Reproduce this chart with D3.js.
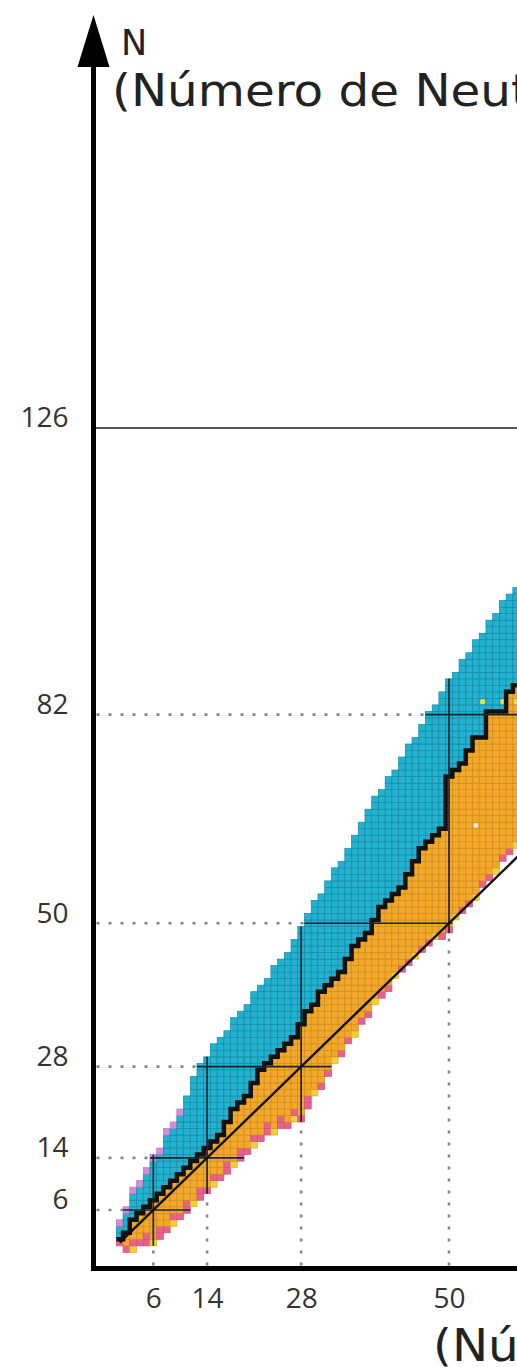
<!DOCTYPE html>
<html>
<head>
<meta charset="utf-8">
<script src="https://cdnjs.cloudflare.com/ajax/libs/d3/7.8.5/d3.min.js"></script>
<style>
body { margin: 0; background: #fff; }
svg { display: block; }
</style>
</head>
<body>
<script>
// proton number Z and, for each Z, the neutron numbers
var zValues = d3.range(1, 61);
// lightest known isotope (proton-rich edge)
var nLow = [1, 0, 0, 1, 1, 1, 2, 3, 4, 5,
            6, 7, 8, 9, 10, 11, 12, 13, 14, 15,
            16, 17, 18, 18, 19, 19, 20, 20, 22, 24,
            25, 27, 29, 30, 32, 33, 35, 36, 38, 39,
            40, 42, 43, 44, 45, 46, 47, 48, 48, 49,
            51, 52, 53, 54, 56, 57, 58, 60, 61, 62];
// top of the stability staircase
var nStable = [1, 2, 4, 5, 6, 7, 8, 9, 10, 11,
               12, 13, 14, 15, 16, 17, 19, 21, 22, 23,
               25, 27, 28, 29, 30, 31, 32, 34, 36, 37,
               39, 40, 41, 42, 44, 46, 47, 48, 50, 52,
               53, 54, 55, 57, 59, 61, 62, 63, 64, 72,
               73, 74, 76, 78, 78, 82, 82, 82, 85, 86];
// heaviest known isotope (neutron-rich edge)
var nHigh = [4, 6, 9, 10, 12, 14, 15, 18, 19, 21,
             23, 26, 28, 29, 31, 32, 33, 35, 36, 37,
             39, 40, 41, 43, 44, 45, 47, 49, 51, 53,
             54, 56, 58, 59, 61, 63, 65, 67, 69, 70,
             72, 73, 75, 77, 78, 80, 82, 83, 85, 87,
             88, 90, 91, 93, 94, 96, 97, 99, 100, 101];

var magicN = [6, 14, 28, 50, 82];
var magicZ = [6, 14, 28, 50];
var yTicks = [6, 14, 28, 50, 82, 126];
var xTicks = [6, 14, 28, 50];
var yellowDots = [[55, 84], [58, 84], [60, 84]];
var whiteDots = [[54, 65]];

var width = 517, height = 1367;
var axisX = 93.5, axisY = 1268.5;

var svg = d3.select("body").append("svg")
    .attr("width", width)
    .attr("height", height);

var x = d3.scaleLinear().domain([0, 60]).range([113, 516.2]);
var y = d3.scaleLinear().domain([0, 126]).range([1249.1, 427.9]);
var cw = x(1) - x(0), ch = y(0) - y(1);

var fills = {
    blue:   ["#21b2cf", "#1889a6"],
    orange: ["#f2a92a", "#d38b20"],
    pink:   ["#e8618b", "#d24f78"],
    yellow: ["#f3cd3a", "#dcae2a"],
    violet: ["#d68bd8", "#c278c6"]
};

// build the cells
var cells = [];
zValues.forEach(function (z, i) {
    for (var n = nLow[i]; n <= nHigh[i]; n++) {
        var type = n > nStable[i] ? "blue" : "orange";
        if (type === "orange") {
            var d = n - nLow[i];
            if (d === 0) type = (z % 3 === 0) ? "yellow" : "pink";
            else if (d === 1 && z <= 30 && z % 2) type = "pink";
        }
        if (type === "blue" && z <= 10 && n === nHigh[i]) type = "violet";
        cells.push({z: z, n: n, type: type});
    }
});

svg.append("g").selectAll("rect")
    .data(cells)
    .enter()
    .append("rect")
    .attr("x", function (d) { return x(d.z) - cw / 2; })
    .attr("y", function (d) { return y(d.n) - ch / 2; })
    .attr("width", cw)
    .attr("height", ch)
    .attr("fill", function (d) { return fills[d.type][0]; })
    .attr("stroke", function (d) { return fills[d.type][1]; })
    .attr("stroke-width", 0.7);

svg.append("g").selectAll("circle.y")
    .data(yellowDots)
    .enter()
    .append("circle")
    .attr("cx", function (d) { return x(d[0]); })
    .attr("cy", function (d) { return y(d[1]); })
    .attr("r", 2.6)
    .attr("fill", "#e8e23a");

svg.append("g").selectAll("circle.w")
    .data(whiteDots)
    .enter()
    .append("circle")
    .attr("cx", function (d) { return x(d[0]); })
    .attr("cy", function (d) { return y(d[1]); })
    .attr("r", 2.4)
    .attr("fill", "#fff6e0");

// stability staircase
var stairs = zValues.map(function (z, i) { return [z - 0.5, nStable[i] + 0.5]; });
stairs.push([60.5, nStable[59] + 0.5]);
svg.append("path")
    .datum(stairs)
    .attr("d", d3.line()
        .x(function (d) { return x(d[0]); })
        .y(function (d) { return y(d[1]); })
        .curve(d3.curveStepAfter))
    .attr("fill", "none")
    .attr("stroke", "#111")
    .attr("stroke-width", 4.5);

// magic number lines
var dotted = {stroke: "#858585", width: 2.6, dash: "3 9"};
var lines = svg.append("g");

magicN.forEach(function (m) {
    var zs = zValues.filter(function (z, i) { return nLow[i] <= m && m <= nHigh[i]; });
    var x0 = x(d3.min(zs) - 0.5), x1 = x(d3.max(zs) + 0.5);
    lines.append("line")
        .attr("x1", axisX + 3).attr("x2", x0)
        .attr("y1", y(m)).attr("y2", y(m))
        .attr("stroke", dotted.stroke).attr("stroke-width", dotted.width)
        .attr("stroke-dasharray", dotted.dash);
    lines.append("line")
        .attr("x1", x0).attr("x2", x1)
        .attr("y1", y(m)).attr("y2", y(m))
        .attr("stroke", "#1b2530").attr("stroke-width", 1.7);
});

magicZ.forEach(function (m) {
    var i = m - 1;
    var y0 = y(nLow[i] - 0.5), y1 = y(nHigh[i] + 0.5);
    lines.append("line")
        .attr("x1", x(m)).attr("x2", x(m))
        .attr("y1", axisY - 3).attr("y2", y0)
        .attr("stroke", dotted.stroke).attr("stroke-width", dotted.width)
        .attr("stroke-dasharray", dotted.dash);
    lines.append("line")
        .attr("x1", x(m)).attr("x2", x(m))
        .attr("y1", y0).attr("y2", y1)
        .attr("stroke", "#1b2530").attr("stroke-width", 1.7);
});

// N = 126
lines.append("line")
    .attr("x1", axisX).attr("x2", width)
    .attr("y1", y(126)).attr("y2", y(126))
    .attr("stroke", "#555").attr("stroke-width", 2);

// N = Z line
svg.append("path")
    .datum([1, 61])
    .attr("d", d3.line()
        .x(function (d) { return x(d); })
        .y(function (d) { return y(d); }))
    .attr("stroke", "#111")
    .attr("stroke-width", 2.4)
    .attr("fill", "none");

// axes
svg.append("line")
    .attr("x1", axisX).attr("x2", axisX)
    .attr("y1", axisY + 2.5).attr("y2", 62)
    .attr("stroke", "#000").attr("stroke-width", 5);
svg.append("path")
    .attr("d", "M" + axisX + ",15 L" + (axisX - 16) + ",67 L" + (axisX + 16) + ",67 Z")
    .attr("fill", "#000");
svg.append("line")
    .attr("x1", axisX - 2.5).attr("x2", width + 10)
    .attr("y1", axisY).attr("y2", axisY)
    .attr("stroke", "#000").attr("stroke-width", 5);

var yAxis = d3.axisLeft(y).tickValues(yTicks).tickSize(0).tickPadding(25);
var gy = svg.append("g")
    .attr("transform", "translate(" + axisX + ",0)")
    .call(yAxis);
gy.select(".domain").remove();
gy.selectAll("text")
    .attr("dy", "-0.04em")
    .attr("fill", "#333")
    .style("font-family", "'Open Sans', sans-serif")
    .style("font-size", "28px");

var xAxis = d3.axisBottom(x).tickValues(xTicks).tickSize(0).tickPadding(0);
var gx = svg.append("g")
    .attr("transform", "translate(0," + axisY + ")")
    .call(xAxis);
gx.select(".domain").remove();
gx.selectAll("text")
    .attr("y", 39.5)
    .attr("dy", 0)
    .attr("fill", "#333")
    .style("font-family", "'Open Sans', sans-serif")
    .style("font-size", "28px");

// axis titles
svg.append("text")
    .attr("x", 121).attr("y", 55)
    .attr("fill", "#222")
    .style("font-family", "'DejaVu Sans', sans-serif")
    .style("font-size", "35px")
    .text("N");
svg.append("text")
    .attr("transform", "translate(112,106) scale(1.1,1)")
    .attr("fill", "#222")
    .style("font-family", "'DejaVu Sans', sans-serif")
    .style("font-size", "44px")
    .text("(Número de Neutrones)");
svg.append("text")
    .attr("transform", "translate(433,1361) scale(1.1,1)")
    .attr("fill", "#222")
    .style("font-family", "'DejaVu Sans', sans-serif")
    .style("font-size", "44px")
    .text("(Número de Protones)");
</script>
</body>
</html>
